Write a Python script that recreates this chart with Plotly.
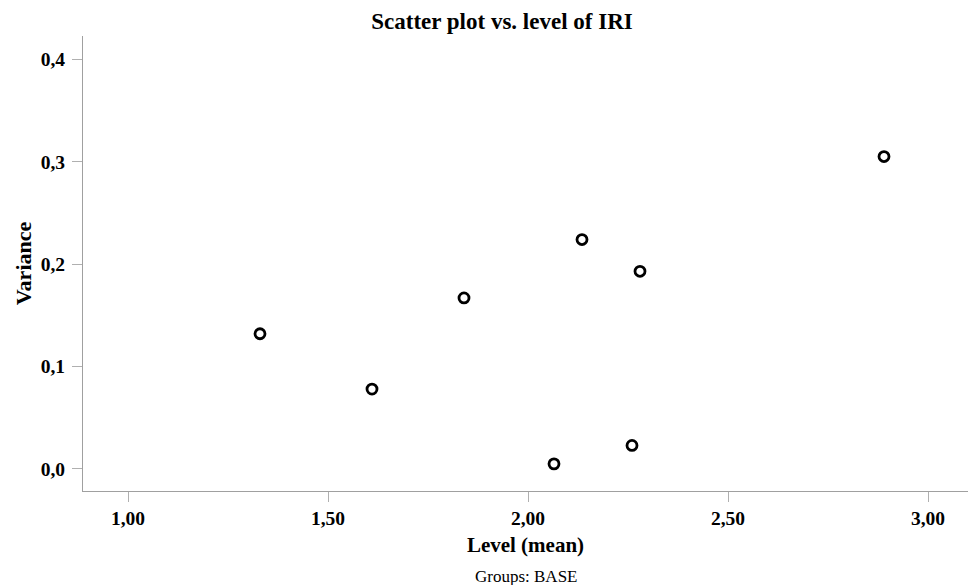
import plotly.graph_objects as go

level_mean = [1.33, 1.61, 1.84, 2.065, 2.135, 2.26, 2.28, 2.89]
variance = [0.132, 0.078, 0.167, 0.005, 0.224, 0.023, 0.193, 0.305]
x_ticks = [1.0, 1.5, 2.0, 2.5, 3.0]
x_ticklabels = ["1,00", "1,50", "2,00", "2,50", "3,00"]
y_ticks = [0.0, 0.1, 0.2, 0.3, 0.4]
y_ticklabels = ["0,0", "0,1", "0,2", "0,3", "0,4"]

font = "Liberation Serif, Times New Roman, serif"

fig = go.Figure(go.Scatter(
    x=level_mean, y=variance, mode="markers",
    marker=dict(symbol="circle-open", size=10, color="black",
                line=dict(width=2.8, color="black")),
    hoverinfo="x+y", showlegend=False,
))

axis_common = dict(
    showgrid=False, zeroline=False, showline=True, linecolor="#a0a0a0",
    linewidth=1, ticks="outside", tickcolor="#b0b0b0", ticklen=10,
    automargin=False,
    tickfont=dict(family=font, size=19.5, color="black"),
)

fig.update_layout(
    width=969, height=585,
    margin=dict(l=83, r=1, t=36, b=94),
    paper_bgcolor="white", plot_bgcolor="white",
    title=dict(text="<b>Scatter plot vs. level of IRI</b>", x=502 / 969, xanchor="center",
               y=1 - 21 / 585, yanchor="middle",
               font=dict(family=font, size=23, color="black")),
    xaxis=dict(range=[0.8875, 3.1], tickvals=x_ticks,
               ticktext=["<b>%s</b>" % t for t in x_ticklabels],
               title=dict(text="<b>Level (mean)</b>", font=dict(family=font, size=21, color="black"), standoff=8),
               **axis_common),
    yaxis=dict(range=[-0.0215, 0.4227], tickvals=y_ticks,
               ticktext=["<b>%s</b>" % t for t in y_ticklabels],
               ticklabelstandoff=3,
               title=dict(text="<b>Variance</b>", font=dict(family=font, size=22, color="black"), standoff=3),
               **axis_common),
    annotations=[dict(text="Groups: BASE", x=0.5, xref="paper", y=-0.189, yref="paper",
                      yanchor="middle", xanchor="center", showarrow=False,
                      font=dict(family=font, size=17, color="black"))],
)

fig.write_html("out.html", config={"displayModeBar": False},
               post_script="document.body.style.margin='0';document.body.style.overflow='hidden';")
